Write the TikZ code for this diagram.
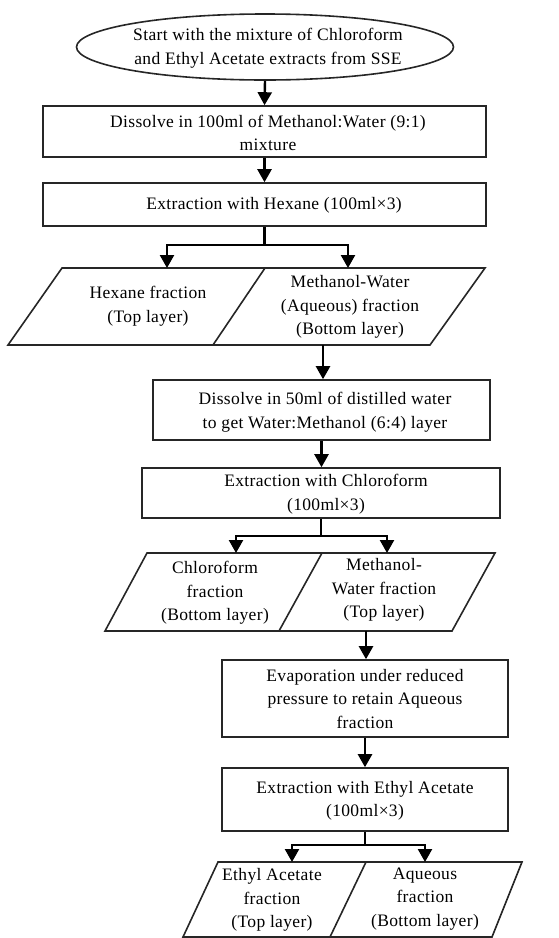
\documentclass[tikz,border=0pt]{standalone}
\usepackage{fontspec}
\setmainfont{Liberation Serif}[LetterSpace=2]
\usetikzlibrary{shapes.geometric,arrows.meta}
\tikzset{
  box/.style={draw=black!85,line width=1.6pt,rectangle,inner sep=0pt},
  para/.style={draw=black!85,line width=1.6pt},
  txt/.style={align=center,inner sep=0pt,font=\fontsize{17.5}{23.5}\selectfont},
  arr/.style={line width=2.4pt,-{Triangle[length=13pt,width=14pt]}},
  ln/.style={line width=2.4pt}
}
\begin{document}
\begin{tikzpicture}[x=1pt,y=-1pt]
\useasboundingbox (0,0) rectangle (558,938);
% start
\node[ellipse,draw=black!85,line width=1.6pt,minimum width=377pt,minimum height=66pt,inner sep=0pt] (start) at (265,47) {};
\node[txt] (starttxt) at (268,48) {Start with the mixture of Chloroform\\and Ethyl Acetate extracts from SSE};
% boxes
\node[box,minimum width=443pt,minimum height=51pt] (b1) at (264.5,131.5) {};
\node[txt] (b1t) at (268,133) {Dissolve in 100ml of Methanol:Water (9:1)\\mixture};
\node[box,minimum width=443pt,minimum height=43pt] (b2) at (264.5,204.5) {};
\node[txt] (b2t) at (274,205) {Extraction with Hexane (100ml×3)};
% parallelograms 1
\draw[para] (62,268) -- (485,268) -- (430,345) -- (8,345) -- cycle;
\draw[para] (265,268) -- (213,345);
\coordinate (p1l) at (167,268);
\coordinate (p1r) at (348,268);
\coordinate (p1o) at (323,345);
\node[txt] (p1lt) at (148,306) {Hexane fraction\\(Top layer)};
\node[txt] (p1rt) at (350,307) {Methanol-Water\\(Aqueous) fraction\\(Bottom layer)};
% box 3,4
\node[box,minimum width=337pt,minimum height=60pt] (b3) at (321.5,410) {};
\node[txt] (b3t) at (325,412) {Dissolve in 50ml of distilled water\\to get Water:Methanol (6:4) layer};
\node[box,minimum width=358pt,minimum height=50pt] (b4) at (321,493) {};
\node[txt] (b4t) at (326,494) {Extraction with Chloroform\\(100ml×3)};
% parallelograms 2
\draw[para] (147,553) -- (495,553) -- (452,631) -- (105,631) -- cycle;
\draw[para] (322,553) -- (279,631);
\coordinate (p2l) at (236,553);
\coordinate (p2r) at (387,553);
\coordinate (p2o) at (366,631);
\node[txt] (p2lt) at (215,593) {Chloroform\\fraction\\(Bottom layer)};
\node[txt] (p2rt) at (384,590) {Methanol-\\Water fraction\\(Top layer)};
% box 5,6
\node[box,minimum width=286pt,minimum height=77pt] (b5) at (365,698.5) {};
\node[txt] (b5t) at (365,699) {Evaporation under reduced\\pressure to retain Aqueous\\fraction};
\node[box,minimum width=286pt,minimum height=63pt] (b6) at (365,799.5) {};
\node[txt] (b6t) at (365,801) {Extraction with Ethyl Acetate\\(100ml×3)};
% parallelograms 3
\draw[para] (218,862) -- (522,862) -- (492,937) -- (183,937) -- cycle;
\draw[para] (366,862) -- (330,937);
\coordinate (p3l) at (292,862);
\coordinate (p3r) at (425,862);
\node[txt] (p3lt) at (272,900) {Ethyl Acetate\\fraction\\(Top layer)};
\node[txt] (p3rt) at (425,899) {Aqueous\\fraction\\(Bottom layer)};
% junctions
\coordinate (j1) at (264.5,245);
\coordinate (j2) at (321,536);
\coordinate (j3) at (365,845);
% connectors
\draw[arr] (start.south) -- (b1.north);
\draw[arr] (b1.south) -- (b2.north);
\draw[ln] (b2.south) -- (j1);
\draw[arr] (j1) -| (p1l);
\draw[arr] (j1) -| (p1r);
\draw[arr] (p1o) -- (p1o |- b3.north);
\draw[arr] (b3.south) -- (b3.south |- b4.north);
\draw[ln] (b4.south) -- (j2);
\draw[arr] (j2) -| (p2l);
\draw[arr] (j2) -| (p2r);
\draw[arr] (p2o) -- (p2o |- b5.north);
\draw[arr] (b5.south) -- (b6.north);
\draw[ln] (b6.south) -- (j3);
\draw[arr] (j3) -| (p3l);
\draw[arr] (j3) -| (p3r);
\end{tikzpicture}
\end{document}
